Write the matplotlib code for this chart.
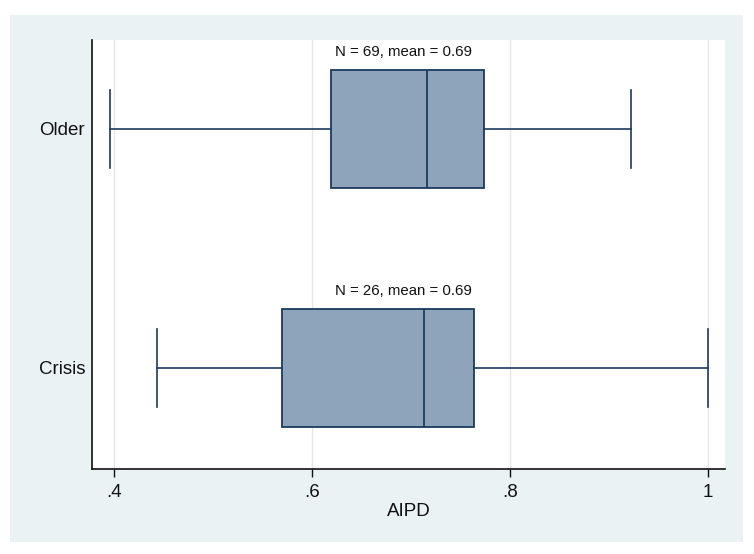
import matplotlib
matplotlib.use("Agg")
import matplotlib.pyplot as plt
from matplotlib.patches import Rectangle

categories = ["Crisis", "Older"]
q1 = [0.570, 0.619]
median = [0.713, 0.716]
q3 = [0.764, 0.774]
whislo = [0.443, 0.396]
whishi = [1.000, 0.922]
n_obs = [26, 69]
means = [0.69, 0.69]
xticks = [0.4, 0.6, 0.8, 1.0]
xticklabels = [".4", ".6", ".8", "1"]

plt.rcParams["font.family"] = ["Liberation Sans", "DejaVu Sans"]

navy = "#1c3a5e"
fill = "#8da4ba"
bg = "#eaf2f3"

fig = plt.figure(figsize=(7.54, 5.54), dpi=100, facecolor="white")
fig.patches.append(Rectangle((10 / 754, 1 - 542 / 554), 733 / 754, 527 / 554,
                             transform=fig.transFigure, facecolor=bg,
                             edgecolor="none", zorder=-10))
ax = fig.add_axes([92 / 754, 1 - 469 / 554, 633 / 754, 429 / 554])
ax.set_zorder(1)
ax.set_facecolor("white")

stats = []
for i, c in enumerate(categories):
    stats.append(dict(label=c, q1=q1[i], med=median[i], q3=q3[i],
                      whislo=whislo[i], whishi=whishi[i], fliers=[]))
pos = list(range(len(categories)))
ax.bxp(stats, positions=pos, orientation="horizontal", widths=0.494,
       patch_artist=True, showfliers=False,
       boxprops=dict(facecolor=fill, edgecolor=navy, linewidth=1.3),
       medianprops=dict(color=navy, linewidth=1.3),
       whiskerprops=dict(color=navy, linewidth=1.2),
       capprops=dict(color=navy, linewidth=1.2),
       capwidths=0.326)

for i in pos:
    ax.text(means[i] + 0.002, pos[i] + 0.247 + 0.06, f"N = {n_obs[i]}, mean = {means[i]:.2f}",
            ha="center", va="baseline", fontsize=10.8, color="#111111")

ax.set_xlim(0.3778, 1.0172)
ax.set_ylim(-0.423, 1.372)
ax.set_xticks(xticks)
ax.set_xticklabels(xticklabels)
ax.set_yticks(pos)
ax.set_yticklabels(categories)
ax.tick_params(axis="x", direction="out", length=6, width=1, labelsize=13.5, pad=5, colors="#111111")
ax.tick_params(axis="y", length=0, labelsize=13.5, pad=5, colors="#111111")
ax.set_xlabel("AIPD", fontsize=13.5, labelpad=1, color="#111111")
ax.grid(axis="x", color="#e6e6e6", linewidth=1)
ax.set_axisbelow(True)
for s in ["top", "right"]:
    ax.spines[s].set_visible(False)
for s in ["left", "bottom"]:
    ax.spines[s].set_color("#111111")
    ax.spines[s].set_linewidth(1.2)

fig.savefig("out.png", dpi=100, facecolor="white")
